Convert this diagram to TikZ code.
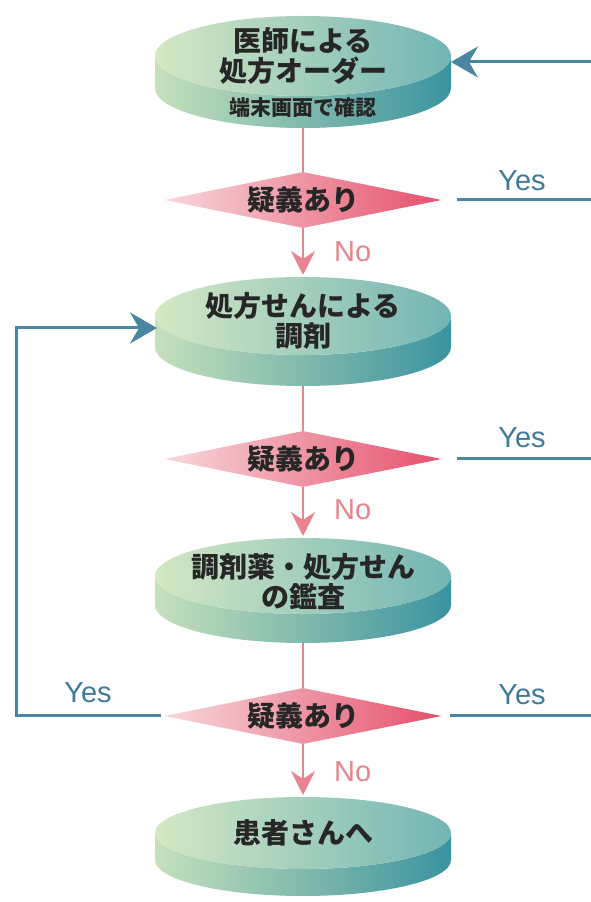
\documentclass[tikz,border=0pt]{standalone}
\usepackage{fontspec}
\setmainfont{Liberation Sans}
\newfontfamily\jp{Noto Sans CJK JP}
\usetikzlibrary{arrows.meta,shapes.geometric}
\definecolor{pinkln}{HTML}{E8838F}
\definecolor{blueln}{HTML}{4A86A2}
\definecolor{bluetx}{HTML}{3E7A9A}
\definecolor{diskL}{HTML}{D4E8C4}
\definecolor{diskR}{HTML}{72B5B4}
\definecolor{sideL}{HTML}{C6E0BB}
\definecolor{sideR}{HTML}{3A93A0}
\definecolor{diaL}{HTML}{F8D8DB}
\definecolor{diaM}{HTML}{F2B0B9}
\definecolor{diaR}{HTML}{E5506C}
% name, cx, cy, rx, ry, thickness
\newcommand{\mkdisk}[6]{%
  \shade[left color=sideL, right color=sideR]
    (#2-#4,#3) -- (#2-#4,#3-#6)
    arc[start angle=180, end angle=360, x radius=#4, y radius=#5]
    -- (#2+#4,#3)
    arc[start angle=0, end angle=-180, x radius=#4, y radius=#5] -- cycle;
  \shade[left color=diskL, right color=diskR] (#2,#3) ellipse[x radius=#4, y radius=#5];
  \coordinate (#1-top) at (#2,#3+#5);
  \coordinate (#1-bot) at (#2,#3-#6-#5);
}
\tikzset{
  dtext/.style={align=center, inner sep=0pt, text=black!85,
    font=\jp\bfseries\fontsize{28}{30}\selectfont},
  stext/.style={inner sep=0pt, text=black!85,
    font=\jp\bfseries\fontsize{21}{24}\selectfont},
  dia/.style={diamond, aspect=4.9, minimum width=277pt, minimum height=56pt,
    inner sep=0pt, left color=diaL, middle color=diaM, right color=diaR,
    text=black!85, font=\jp\bfseries\fontsize{28}{30}\selectfont},
  pline/.style={draw=pinkln, line width=2.5pt},
  parrow/.style={pline, -{Stealth[length=24pt, width=24pt, inset=8pt]}},
  bline/.style={draw=blueln, line width=3pt},
  barrow/.style={bline, -{Stealth[length=27pt, width=31pt, inset=9pt]}},
  nolab/.style={text=pinkln, inner sep=0pt, font=\fontsize{29}{29}\selectfont},
  yeslab/.style={text=bluetx, inner sep=0pt, font=\fontsize{29}{29}\selectfont},
}
\begin{document}
\begin{tikzpicture}[x=1pt, y=1pt]
\useasboundingbox (0,0) rectangle (591,902);
\fill[white] (0,0) rectangle (591,902);

% disks
\mkdisk{d1}{303}{846}{148}{40}{32}
\mkdisk{d2}{303}{586}{148}{39}{31}
\mkdisk{d3}{303}{326}{148}{38}{29}
\mkdisk{d4}{303}{69}{148}{36}{27}

\node[dtext] (t1) at (303,846) {医師による\\処方オーダー};
\node[stext] (t1s) at (303,794) {端末画面で確認};
\node[dtext] (t2) at (303,581) {処方せんによる\\調剤};
\node[dtext] (t3) at (303,320) {調剤薬・処方せん\\の鑑査};
\node[dtext] (t4) at (303,69) {患者さんへ};

% decision diamonds
\node[dia] (q1) at (303,702) {疑義あり};
\node[dia] (q2) at (303,443) {疑義あり};
\node[dia] (q3) at (303,186) {疑義あり};

% coordinates for loop-backs
\coordinate (rx) at (593,0);
\coordinate (lx) at (16,0);
\coordinate (d1e) at (451,840);
\coordinate (d2w) at (157,574);

% pink flow
\draw[pline] (d1-bot) -- (q1.north);
\draw[parrow, shorten >=2pt] (q1.south) -- (d2-top);
\draw[pline] (d2-bot) -- (q2.north);
\draw[parrow, shorten >=2pt] (q2.south) -- (d3-top);
\draw[pline] (d3-bot) -- (q3.north);
\draw[parrow, shorten >=2pt] (q3.south) -- (d4-top);

% blue Yes loops
\draw[barrow] ([xshift=8pt]q3.east) -| (rx |- d1e) -- (d1e);
\draw[bline] ([xshift=15pt]q1.east) -- (q1.east -| rx);
\draw[bline] ([xshift=15pt]q2.east) -- (q2.east -| rx);
\draw[barrow] ([xshift=-3pt]q3.west) -| (lx |- d2w) -- (d2w);

% labels
\node[nolab, anchor=west] (n1) at (334,650) {No};
\node[nolab, anchor=west] (n2) at (334,392) {No};
\node[nolab, anchor=west] (n3) at (334,130) {No};
\node[yeslab] (y1) at (522,721) {Yes};
\node[yeslab] (y2) at (522,464) {Yes};
\node[yeslab] (y3) at (522,207) {Yes};
\node[yeslab] (y4) at (88,209) {Yes};
\end{tikzpicture}
\end{document}
